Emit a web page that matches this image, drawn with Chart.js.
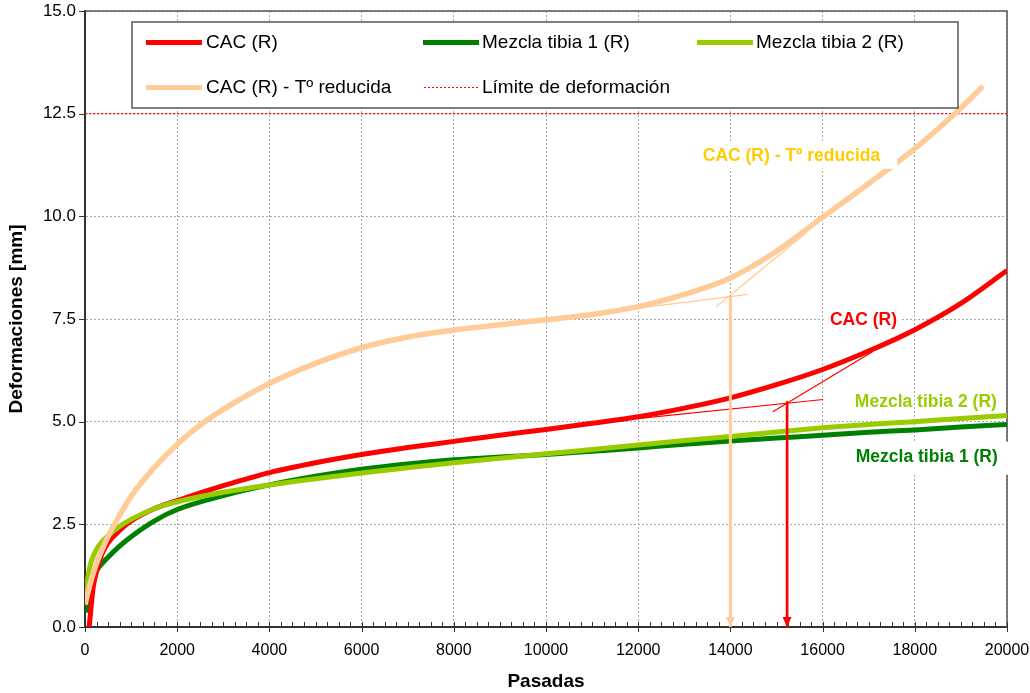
<!DOCTYPE html>
<html>
<head>
<meta charset="utf-8">
<script src="https://cdn.jsdelivr.net/npm/chart.js@4/dist/chart.umd.min.js"></script>
<style>
html,body{margin:0;padding:0;background:#fff;}
canvas{display:block;}
</style>
</head>
<body>
<canvas id="c" width="1030" height="693"></canvas>
<script>
// ---- data ----
const seriesNames = ['CAC (R)', 'Mezcla tibia 1 (R)', 'Mezcla tibia 2 (R)', 'CAC (R) - Tº reducida', 'Límite de deformación'];

const cacX = [90, 180, 260, 370, 500, 750, 1000, 1500, 2000, 3000, 4000, 5000, 6000, 7000, 8000, 9000, 10000, 11000, 12000, 13000, 14000, 15000, 16000, 17000, 18000, 19000, 20000];
const cacY = [0, 0.98, 1.4, 1.78, 2.05, 2.35, 2.58, 2.88, 3.08, 3.44, 3.76, 4.0, 4.2, 4.37, 4.52, 4.67, 4.81, 4.96, 5.12, 5.33, 5.58, 5.9, 6.27, 6.72, 7.24, 7.88, 8.68];

const tibia1X = [30, 100, 200, 300, 500, 750, 1000, 1500, 2000, 3000, 4000, 5000, 6000, 7000, 8000, 9000, 10000, 11000, 12000, 13000, 14000, 15000, 16000, 17000, 18000, 19000, 20000];
const tibia1Y = [0.35, 0.95, 1.25, 1.45, 1.7, 1.97, 2.2, 2.58, 2.86, 3.2, 3.46, 3.67, 3.84, 3.97, 4.07, 4.14, 4.2, 4.28, 4.36, 4.45, 4.53, 4.6, 4.67, 4.74, 4.8, 4.87, 4.93];

const tibia2X = [0, 50, 100, 200, 300, 500, 750, 1000, 1500, 2000, 3000, 4000, 5000, 6000, 7000, 8000, 9000, 10000, 11000, 12000, 13000, 14000, 15000, 16000, 17000, 18000, 19000, 20000];
const tibia2Y = [0.55, 1.1, 1.45, 1.78, 1.98, 2.22, 2.45, 2.62, 2.88, 3.05, 3.28, 3.46, 3.61, 3.75, 3.88, 4.0, 4.11, 4.22, 4.32, 4.43, 4.54, 4.64, 4.75, 4.85, 4.93, 5.0, 5.08, 5.15];

const peachX = [0, 100, 250, 500, 750, 1000, 1500, 2000, 2500, 3000, 4000, 5000, 6000, 7000, 8000, 9000, 10000, 11000, 12000, 13000, 14000, 15000, 16000, 17000, 18000, 19000, 19480];
const peachY = [0.55, 1.0, 1.55, 2.2, 2.72, 3.18, 3.88, 4.45, 4.92, 5.3, 5.93, 6.42, 6.8, 7.06, 7.23, 7.36, 7.48, 7.61, 7.8, 8.1, 8.5, 9.15, 9.98, 10.8, 11.65, 12.64, 13.17];

const limitX = [0, 20000];
const limitY = [12.5, 12.5];

// tangent constructions
const peachTan1X = [11390, 14380], peachTan1Y = [7.68, 8.10];
const peachTan2X = [13690, 15660], peachTan2Y = [7.80, 9.61];
const peachArrowX = [14000, 14000], peachArrowY = [8.07, 0];
const cacTan1X = [12040, 16010], cacTan1Y = [5.08, 5.54];
const cacTan2X = [14920, 17090], cacTan2Y = [5.24, 6.71];
const cacArrowX = [15230, 15230], cacArrowY = [5.5, 0];

// axis ticks
const xTicks = [0, 2000, 4000, 6000, 8000, 10000, 12000, 14000, 16000, 18000, 20000];
const yTicks = [0, 2.5, 5, 7.5, 10, 12.5, 15];
const yTickLabels = ['0.0', '2.5', '5.0', '7.5', '10.0', '12.5', '15.0'];
const xMinorStep = 250;

// in-chart labels (text + anchor in data units)
const noteTexts = ['CAC (R) - Tº reducida', 'CAC (R)', 'Mezcla tibia 2 (R)', 'Mezcla tibia 1 (R)'];
const noteX = [13400, 16160, 16700, 16720];
const noteY = [11.5, 7.49, 5.49, 4.17];

// ---- helpers ----
const pts = (xs, ys) => xs.map((v, i) => ({x: v, y: ys[i]}));
const FONT = '"Liberation Sans", Arial, Helvetica, sans-serif';
const C_RED = '#FF0000', C_DG = '#008000', C_LG = '#99CC00', C_PEACH = '#FFCC99';

const curve = (label, xs, ys, color, w, order) => ({
  label, data: pts(xs, ys), borderColor: color, backgroundColor: color,
  borderWidth: w, pointRadius: 0, cubicInterpolationMode: 'monotone',
  borderCapStyle: 'butt', fill: false, order
});
const thin = (xs, ys, color, w) => ({
  label: '', data: pts(xs, ys), borderColor: color, borderWidth: w,
  pointRadius: 0, fill: false, order: 0, tension: 0, borderCapStyle: 'butt'
});

const noteStyle = [
  {color: '#FFCC00', box: [10, 17, 13, 14]},
  {color: C_RED, box: [4, 3, 12, 12]},
  {color: C_LG, box: null},
  {color: C_DG, box: [6, 11, 14, 19]}
];

const deco = {
  id: 'deco',
  beforeDatasetsDraw(chart) {
    const {ctx, chartArea: a, scales: {x, y}} = chart;
    ctx.save();
    ctx.strokeStyle = '#555';
    ctx.lineWidth = 1.5;
    ctx.beginPath();
    ctx.moveTo(a.left, a.top); ctx.lineTo(a.right, a.top); ctx.lineTo(a.right, a.bottom);
    ctx.stroke();
    ctx.strokeStyle = '#333';
    ctx.lineWidth = 1;
    for (let v = 0; v <= 20000; v += xMinorStep) {
      const px = Math.round(x.getPixelForValue(v)) + 0.5;
      const major = v % 2000 === 0;
      ctx.beginPath();
      ctx.moveTo(px, a.bottom - 5);
      ctx.lineTo(px, a.bottom + (major ? 5 : 0));
      ctx.stroke();
    }
    for (const v of yTicks) {
      const py = Math.round(y.getPixelForValue(v)) + 0.5;
      ctx.beginPath();
      ctx.moveTo(a.left - 6, py); ctx.lineTo(a.left, py);
      ctx.stroke();
    }
    ctx.restore();
  },
  afterDatasetsDraw(chart) {
    const {ctx, chartArea: a, scales: {x, y}} = chart;
    ctx.save();
    // arrowheads
    [[peachArrowX, peachArrowY, C_PEACH], [cacArrowX, cacArrowY, C_RED]].forEach(([xs, ys, col]) => {
      const px = x.getPixelForValue(xs[1]);
      const py = y.getPixelForValue(ys[1]);
      ctx.fillStyle = col;
      ctx.beginPath();
      ctx.moveTo(px, py);
      ctx.lineTo(px - 4.5, py - 10);
      ctx.lineTo(px + 4.5, py - 10);
      ctx.closePath();
      ctx.fill();
    });
    // notes
    ctx.font = 'bold 17.5px ' + FONT;
    ctx.textBaseline = 'middle';
    ctx.textAlign = 'left';
    noteTexts.forEach((t, i) => {
      const px = x.getPixelForValue(noteX[i]);
      const py = y.getPixelForValue(noteY[i]);
      const st = noteStyle[i];
      const w = ctx.measureText(t).width;
      if (st.box) {
        ctx.fillStyle = '#fff';
        ctx.fillRect(px - st.box[0], py - st.box[2], w + st.box[0] + st.box[1], st.box[2] + st.box[3]);
      }
      ctx.fillStyle = st.color;
      ctx.fillText(t, px, py + 1);
    });
    // legend
    const L = {x1: 132, y1: 22, x2: 958, y2: 108};
    ctx.fillStyle = '#fff';
    ctx.fillRect(L.x1, L.y1, L.x2 - L.x1, L.y2 - L.y1);
    ctx.strokeStyle = '#555';
    ctx.lineWidth = 1.5;
    ctx.strokeRect(L.x1, L.y1, L.x2 - L.x1, L.y2 - L.y1);
    const items = [
      {name: seriesNames[0], col: C_RED, w: 5, dash: [], x1: 146, x2: 202, tx: 206, y: 42},
      {name: seriesNames[1], col: C_DG, w: 5, dash: [], x1: 423, x2: 479, tx: 482, y: 42},
      {name: seriesNames[2], col: C_LG, w: 5, dash: [], x1: 697, x2: 753, tx: 756, y: 42},
      {name: seriesNames[3], col: C_PEACH, w: 5, dash: [], x1: 146, x2: 202, tx: 206, y: 87},
      {name: seriesNames[4], col: '#FF0000', w: 1, dash: [2, 2], x1: 424, x2: 478, tx: 482, y: 87}
    ];
    ctx.font = '19px ' + FONT;
    ctx.textBaseline = 'middle';
    items.forEach(it => {
      ctx.strokeStyle = it.col;
      ctx.lineWidth = it.w;
      ctx.setLineDash(it.dash);
      ctx.beginPath();
      ctx.moveTo(it.x1, it.y + 0.5); ctx.lineTo(it.x2, it.y + 0.5);
      ctx.stroke();
      ctx.setLineDash([]);
      ctx.fillStyle = '#000';
      ctx.fillText(it.name, it.tx, it.y + 1);
    });
    ctx.restore();
  }
};

const gridColor = '#A8A8A8';

new Chart(document.getElementById('c'), {
  type: 'line',
  data: {
    datasets: [
      thin(peachTan1X, peachTan1Y, C_PEACH, 1.3),
      thin(peachTan2X, peachTan2Y, C_PEACH, 1.3),
      thin(peachArrowX, peachArrowY, C_PEACH, 3),
      thin(cacTan1X, cacTan1Y, C_RED, 1.2),
      thin(cacTan2X, cacTan2Y, C_RED, 1.2),
      thin(cacArrowX, cacArrowY, C_RED, 2.7),
      curve(seriesNames[3], peachX, peachY, C_PEACH, 5.5, 1),
      curve(seriesNames[2], tibia2X, tibia2Y, C_LG, 5, 2),
      curve(seriesNames[0], cacX, cacY, C_RED, 5, 3),
      curve(seriesNames[1], tibia1X, tibia1Y, C_DG, 5, 4),
      {label: seriesNames[4], data: pts(limitX, limitY), borderColor: '#FF0000', borderWidth: 1.2,
       borderDash: [2, 2], pointRadius: 0, fill: false, order: 5}
    ]
  },
  options: {
    responsive: false,
    animation: false,
    devicePixelRatio: 1,
    layout: {padding: {top: 11, right: 23, left: 0, bottom: 0}},
    plugins: {legend: {display: false}, tooltip: {enabled: false}},
    scales: {
      x: {
        type: 'linear', min: 0, max: 20000,
        afterBuildTicks: s => { s.ticks = xTicks.map(v => ({value: v})); },
        afterFit: s => { s.height = 66; s.paddingLeft = 0; s.paddingRight = 0; s.paddingTop = 0; s.paddingBottom = 0; },
        ticks: {autoSkip: false, maxRotation: 0, padding: 14, color: '#000',
                font: {family: FONT, size: 16}, callback: v => String(v)},
        grid: {color: gridColor, lineWidth: 1, drawTicks: false},
        border: {display: true, color: '#333', width: 2, dash: [2, 2]},
        title: {display: true, text: 'Pasadas', color: '#000',
                font: {family: FONT, size: 19, weight: 'bold', lineHeight: 1.2}, padding: {top: 0, bottom: 0}}
      },
      y: {
        type: 'linear', min: 0, max: 15,
        afterBuildTicks: s => { s.ticks = yTicks.map(v => ({value: v})); },
        afterFit: s => { s.width = 85; s.paddingLeft = 0; s.paddingRight = 0; s.paddingTop = 0; s.paddingBottom = 0; },
        ticks: {padding: 9, color: '#000', font: {family: FONT, size: 17},
                callback: (v) => yTickLabels[yTicks.indexOf(v)]},
        grid: {color: gridColor, lineWidth: 1, drawTicks: false},
        border: {display: true, color: '#333', width: 2, dash: [2, 2]},
        title: {display: true, text: 'Deformaciones [mm]', color: '#000',
                font: {family: FONT, size: 19, weight: 'bold', lineHeight: 1.2}, padding: {top: 5, bottom: 0}}
      }
    }
  },
  plugins: [deco]
});
</script>
</body>
</html>
